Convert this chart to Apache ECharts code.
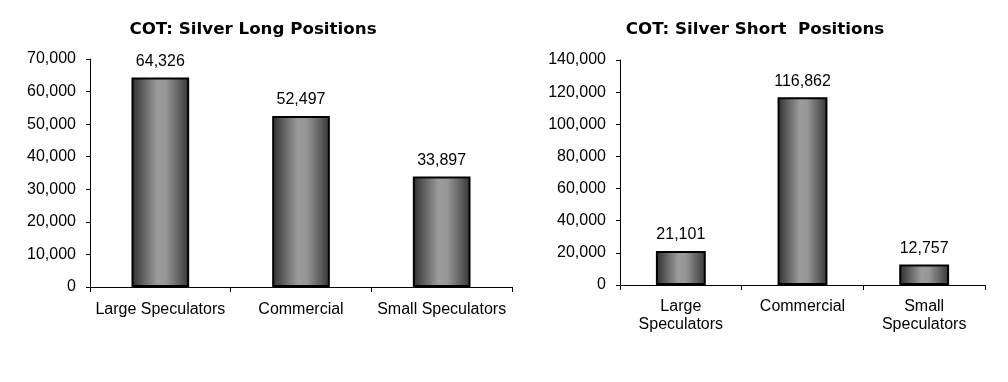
<!DOCTYPE html>
<html><head><meta charset="utf-8">
<script src="https://cdn.jsdelivr.net/npm/echarts@6/dist/echarts.min.js"></script>
<style>html,body{margin:0;padding:0;background:#fff}#c{width:1008px;height:382px}</style>
</head><body><div id="c"></div>
<script>
const categoriesLong = ['Large Speculators', 'Commercial', 'Small Speculators'];
const valuesLong = [64326, 52497, 33897];
const categoriesShort = ['Large\nSpeculators', 'Commercial', 'Small\nSpeculators'];
const valuesShort = [21101, 116862, 12757];
const titleLong = 'COT: Silver Long Positions';
const titleShort = 'COT: Silver Short  Positions';

const grad = {type:'linear',x:0,y:0,x2:1,y2:0,colorStops:[
  {offset:0,color:'#2e2e2e'},{offset:0.2,color:'#606060'},{offset:0.45,color:'#9c9c9c'},
  {offset:0.6,color:'#969696'},{offset:0.85,color:'#5a5a5a'},{offset:1,color:'#353535'}]};
const fmt = v => v.toLocaleString('en-US');
const lab = {fontFamily:'Liberation Sans', fontSize:16, color:'#000'};
const chart = echarts.init(document.getElementById('c'));
function xa(gi, cats, m){return {type:'category', gridIndex:gi, data:cats,
  axisLine:{lineStyle:{color:'#000',width:1}}, axisTick:{show:true,alignWithLabel:false,length:5,lineStyle:{color:'#000'}},
  axisLabel:Object.assign({margin:m, interval:0, lineHeight:18}, lab)};}
function ya(gi, max, iv){return {type:'value', gridIndex:gi, min:0, max:max, interval:iv,
  axisLine:{show:true,lineStyle:{color:'#000'}}, axisTick:{show:true,length:4,lineStyle:{color:'#000'}},
  splitLine:{show:false}, axisLabel:Object.assign({margin:14, formatter:fmt}, lab)};}
function bar(gi, vals){return {type:'bar', xAxisIndex:gi, yAxisIndex:gi, data:vals, barWidth:'41%',
  itemStyle:{color:grad, borderColor:'#000', borderWidth:2},
  label:{show:true, position:'top', distance:8, formatter:p=>fmt(p.value), ...lab}};}
const tStyle = {fontFamily:'DejaVu Sans', fontWeight:'bold', fontSize:16.7, color:'#000'};
chart.setOption({
  animation:false,
  title:[
    {text:titleLong, left:253, top:21, padding:0, textAlign:'center', textStyle:tStyle},
    {text:titleShort, left:755, top:21, padding:0, textAlign:'center', textStyle:tStyle}
  ],
  grid:[{left:90, top:59, width:422, height:228},{left:620, top:60, width:365, height:225}],
  xAxis:[xa(0, categoriesLong, 14), xa(1, categoriesShort, 13)],
  yAxis:[ya(0, 70000, 10000), ya(1, 140000, 20000)],
  series:[bar(0, valuesLong), bar(1, valuesShort)]
});
</script></body></html>
